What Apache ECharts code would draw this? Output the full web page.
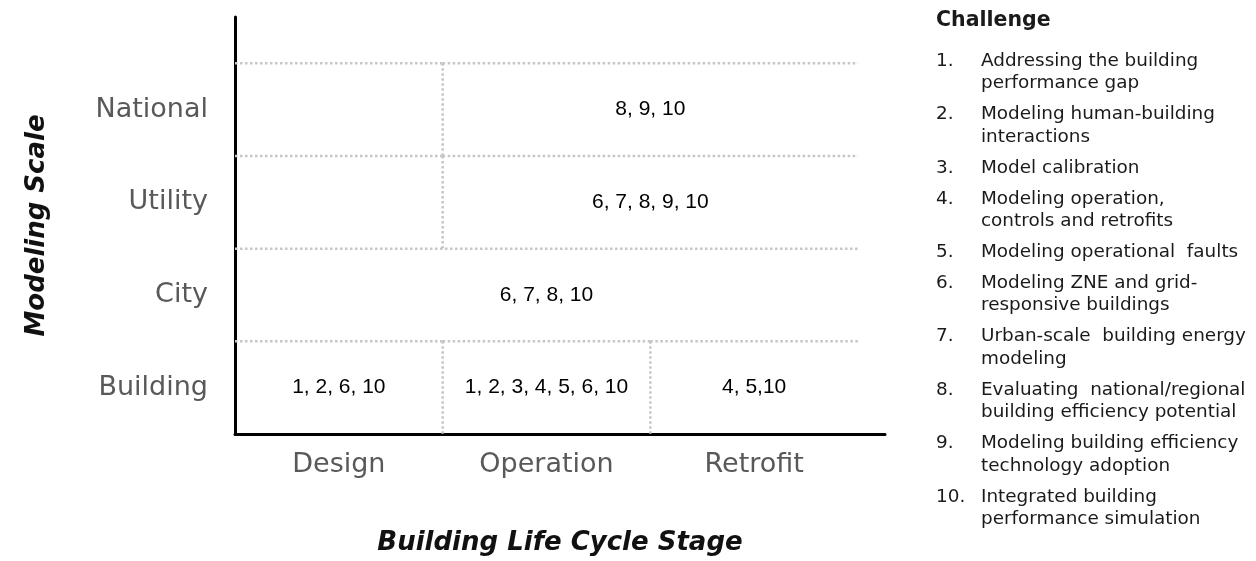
<!DOCTYPE html>
<html>
<head>
<meta charset="utf-8">
<script src="https://cdn.jsdelivr.net/npm/echarts@6/dist/echarts.min.js"></script>
<style>
  html, body { margin: 0; padding: 0; background: #ffffff; }
  #chart { width: 1256px; height: 561px; }
</style>
</head>
<body>
<div id="chart"></div>
<script>
// ---- data ----
const stages = ['Design', 'Operation', 'Retrofit'];
const scales = ['Building', 'City', 'Utility', 'National'];
const cellScale = ['Building', 'Building', 'Building', 'City', 'Utility', 'Utility', 'National', 'National'];
const cellFrom = ['Design', 'Operation', 'Retrofit', 'Design', 'Design', 'Operation', 'Design', 'Operation'];
const cellTo = ['Design', 'Operation', 'Retrofit', 'Retrofit', 'Design', 'Retrofit', 'Design', 'Retrofit'];
const cellChallenges = ['1, 2, 6, 10', '1, 2, 3, 4, 5, 6, 10', '4, 5,10', '6, 7, 8, 10', '', '6, 7, 8, 9, 10', '', '8, 9, 10'];
const legendTitle = 'Challenge';
const legendNumbers = ['1.', '2.', '3.', '4.', '5.', '6.', '7.', '8.', '9.', '10.'];
const legendTexts = [
  'Addressing the building\nperformance gap',
  'Modeling human-building\ninteractions',
  'Model calibration',
  'Modeling operation,\ncontrols and retrofits',
  'Modeling operational  faults',
  'Modeling ZNE and grid-\nresponsive buildings',
  'Urban-scale  building energy\nmodeling',
  'Evaluating  national/regional\nbuilding efficiency potential',
  'Modeling building efficiency\ntechnology adoption',
  'Integrated building\nperformance simulation'
];
const xTitle = 'Building Life Cycle Stage';
const yTitle = 'Modeling Scale';

// ---- build ----
const cellData = cellScale.map((s, i) => [
  stages.indexOf(cellFrom[i]),
  stages.indexOf(cellTo[i]) + 1,
  scales.indexOf(s),
  scales.indexOf(s) + 1
]);

const dotted = { stroke: '#c6c6c6', lineWidth: 2.5, lineDash: [2.5, 2.5] };
const axisFont = 'DejaVu Sans';

// legend graphics
const legendGraphics = [];
legendGraphics.push({
  type: 'text', x: 936, y: 10,
  style: { text: legendTitle, fontSize: 20.5, fontWeight: 'bold', fontFamily: axisFont, fill: '#1a1a1a', verticalAlign: 'top' }
});
const LH = 22.4, GAP = 8.6;
let yCur = 61;
legendTexts.forEach((t, i) => {
  const nLines = t.split('\n').length;
  legendGraphics.push({
    type: 'text', x: 936, y: yCur - LH / 2,
    style: { text: legendNumbers[i], fontSize: 18.4, fontFamily: axisFont, fill: '#1a1a1a', lineHeight: LH, verticalAlign: 'top' }
  });
  legendGraphics.push({
    type: 'text', x: 981, y: yCur - LH / 2,
    style: { text: t, fontSize: 18.4, fontFamily: axisFont, fill: '#1a1a1a', lineHeight: LH, verticalAlign: 'top' }
  });
  yCur += nLines * LH + GAP;
});

const chart = echarts.init(document.getElementById('chart'), null, { renderer: 'canvas' });
chart.setOption({
  backgroundColor: '#ffffff',
  animation: false,
  grid: { left: 235, top: 17, right: 371, bottom: 124, containLabel: false },
  xAxis: {
    type: 'value', min: 0, max: 3.13, interval: 0.5,
    name: xTitle, nameLocation: 'middle', nameGap: 96,
    nameTextStyle: { fontSize: 26, fontWeight: 'bold', fontStyle: 'italic', fontFamily: axisFont, color: '#111' },
    axisLine: { show: true, lineStyle: { color: '#000', width: 3 } },
    axisTick: { show: false },
    splitLine: { show: false },
    axisLabel: {
      margin: 17, fontSize: 27, color: '#595959', fontFamily: axisFont,
      showMinLabel: true, showMaxLabel: true,
      formatter: function (v) {
        const k = v - 0.5;
        const r = Math.round(k);
        if (Math.abs(k - r) < 1e-6 && stages[r]) return stages[r];
        return '';
      }
    }
  },
  yAxis: {
    type: 'value', min: 0, max: 4.5, interval: 0.5,
    name: yTitle, nameLocation: 'middle', nameRotate: 90, nameGap: 185,
    nameTextStyle: { fontSize: 26, fontWeight: 'bold', fontStyle: 'italic', fontFamily: axisFont, color: '#111' },
    axisLine: { show: true, lineStyle: { color: '#000', width: 3 } },
    axisTick: { show: false },
    splitLine: { show: false },
    axisLabel: {
      margin: 27, fontSize: 27, color: '#595959', fontFamily: axisFont,
      formatter: function (v) {
        const k = v - 0.5;
        const r = Math.round(k);
        if (Math.abs(k - r) < 1e-6 && scales[r]) return scales[r];
        return '';
      }
    }
  },
  graphic: legendGraphics,
  series: [{
    type: 'custom',
    clip: false,
    z: 1,
    data: cellData,
    encode: { x: [0, 1], y: [2, 3] },
    renderItem: function (params, api) {
      const i = params.dataIndex;
      const x0 = api.value(0), x1 = api.value(1), y0 = api.value(2), y1 = api.value(3);
      const tl = api.coord([x0, y1]);
      const tr = api.coord([x1, y1]);
      const br = api.coord([x1, y0]);
      const children = [{
        type: 'line', shape: { x1: tl[0], y1: tl[1], x2: tr[0], y2: tr[1] }, style: dotted
      }];
      if (x1 < stages.length) {
        children.push({ type: 'line', shape: { x1: tr[0], y1: tr[1], x2: br[0], y2: br[1] }, style: dotted });
      }
      const c = api.coord([(x0 + x1) / 2, (y0 + y1) / 2]);
      children.push({
        type: 'text', x: c[0], y: c[1],
        style: { text: cellChallenges[i], align: 'center', verticalAlign: 'middle', fontSize: 21, fontFamily: 'Liberation Sans', fill: '#000' }
      });
      return { type: 'group', children: children };
    }
  }]
});
</script>
</body>
</html>
